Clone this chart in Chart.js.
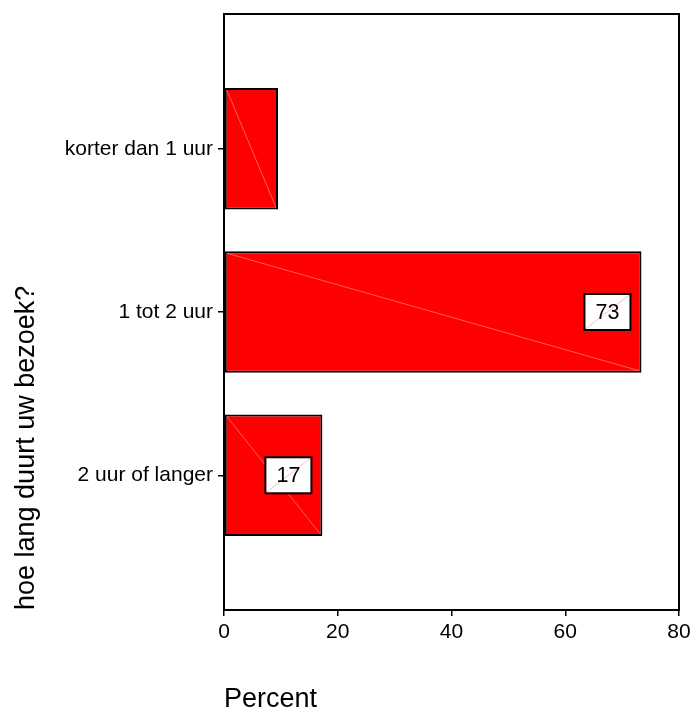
<!DOCTYPE html>
<html>
<head>
<meta charset="utf-8">
<script src="https://cdn.jsdelivr.net/npm/chart.js@4/dist/chart.umd.min.js"></script>
<style>
  html, body { margin: 0; padding: 0; background: #fff; }
  #wrap { width: 693px; height: 711px; }
</style>
</head>
<body>
<div id="wrap"><canvas id="chart" width="693" height="711"></canvas></div>
<script>
(function () {
  'use strict';

  // data
  var categories = ['korter dan 1 uur', '1 tot 2 uur', '2 uur of langer'];
  var percents = [9.5, 73.4, 17.3];
  var barLabels = ['', '73', '17'];
  var xTicks = [0, 20, 40, 60, 80];
  var xTitle = 'Percent';
  var yTitle = 'hoe lang duurt uw bezoek?';

  var FONT = "'Liberation Sans', Arial, Helvetica, sans-serif";
  var n = categories.length;

  // first category on top: index counts down from the top
  var points = categories.map(function (c, i) {
    return { x: percents[i], y: n - 1 - i };
  });

  var framePlugin = {
    id: 'frame',
    afterDraw: function (chart) {
      var a = chart.chartArea;
      var ctx = chart.ctx;
      ctx.save();
      ctx.strokeStyle = '#000';
      ctx.lineWidth = 2;
      ctx.strokeRect(a.left, a.top, a.right - a.left, a.bottom - a.top);
      ctx.restore();
    }
  };

  var barDecor = {
    id: 'barDecor',
    afterDatasetsDraw: function (chart) {
      var ctx = chart.ctx;
      var meta = chart.getDatasetMeta(0);
      ctx.save();
      meta.data.forEach(function (el, i) {
        var p = el.getProps(['x', 'y', 'base', 'height'], true);
        var top = p.y - p.height / 2;
        var bot = p.y + p.height / 2;
        // faint diagonal left over from the original renderer
        ctx.strokeStyle = 'rgba(255,150,150,0.9)';
        ctx.lineWidth = 0.7;
        ctx.beginPath();
        ctx.moveTo(p.base + 2, top + 2);
        ctx.lineTo(p.x - 2, bot - 2);
        ctx.stroke();

        var txt = barLabels[i];
        if (!txt) return;
        var w = 46, h = 36;
        var cx = p.x - 34;
        var bx = cx - w / 2, by = p.y - h / 2;
        ctx.fillStyle = '#fff';
        ctx.fillRect(bx, by, w, h);
        ctx.strokeStyle = 'rgba(255,150,150,0.9)';
        ctx.lineWidth = 0.7;
        ctx.beginPath();
        ctx.moveTo(bx + 1, by + h - 1);
        ctx.lineTo(bx + w - 1, by + 1);
        ctx.stroke();
        ctx.strokeStyle = '#000';
        ctx.lineWidth = 2;
        ctx.strokeRect(bx, by, w, h);
        ctx.fillStyle = '#000';
        ctx.font = '21.5px ' + FONT;
        ctx.textAlign = 'center';
        ctx.textBaseline = 'middle';
        ctx.fillText(txt, cx, p.y + 1);
      });
      ctx.restore();
    }
  };

  new Chart(document.getElementById('chart'), {
    type: 'bar',
    data: {
      datasets: [{
        data: points,
        backgroundColor: '#ff0000',
        borderColor: '#000',
        borderWidth: 2,
        borderSkipped: false,
        categoryPercentage: 1,
        barPercentage: 0.745
      }]
    },
    options: {
      responsive: false,
      animation: false,
      indexAxis: 'y',
      layout: { padding: { top: 14, right: 14, left: 0, bottom: 0 } },
      plugins: {
        legend: { display: false },
        tooltip: { enabled: false }
      },
      scales: {
        x: {
          type: 'linear',
          min: 0,
          max: 80,
          offset: false,
          afterBuildTicks: function (scale) {
            scale.ticks = xTicks.map(function (v) { return { value: v }; });
          },
          afterFit: function (scale) {
            scale.height = 101;
            scale.paddingLeft = 0;
            scale.paddingRight = 0;
          },
          border: { display: false },
          grid: {
            display: true,
            offset: false,
            drawOnChartArea: false,
            drawTicks: true,
            tickLength: 6,
            tickColor: '#000',
            lineWidth: 1.5
          },
          ticks: {
            color: '#000',
            padding: 4,
            maxRotation: 0,
            font: { family: FONT, size: 21 }
          },
          title: {
            display: true,
            text: xTitle,
            align: 'start',
            color: '#000',
            font: { family: FONT, size: 27, lineHeight: 1 },
            padding: { top: 0, bottom: -2 }
          }
        },
        y: {
          type: 'linear',
          min: -0.825,
          max: n - 1 + 0.825,
          offset: false,
          afterBuildTicks: function (scale) {
            scale.ticks = categories.map(function (c, i) { return { value: i }; });
          },
          afterFit: function (scale) {
            scale.width = 224;
            scale.paddingTop = 0;
            scale.paddingBottom = 0;
          },
          border: { display: false },
          grid: {
            display: true,
            offset: false,
            drawOnChartArea: false,
            drawTicks: true,
            tickLength: 6,
            tickColor: '#000',
            lineWidth: 1.5
          },
          ticks: {
            color: '#000',
            padding: 5,
            font: { family: FONT, size: 21 },
            callback: function (value) {
              return categories[n - 1 - value];
            }
          },
          title: {
            display: true,
            text: yTitle,
            align: 'start',
            color: '#000',
            font: { family: FONT, size: 27, lineHeight: 1 },
            padding: { top: 13.5, bottom: 0 }
          }
        }
      }
    },
    plugins: [barDecor, framePlugin]
  });
})();
</script>
</body>
</html>
